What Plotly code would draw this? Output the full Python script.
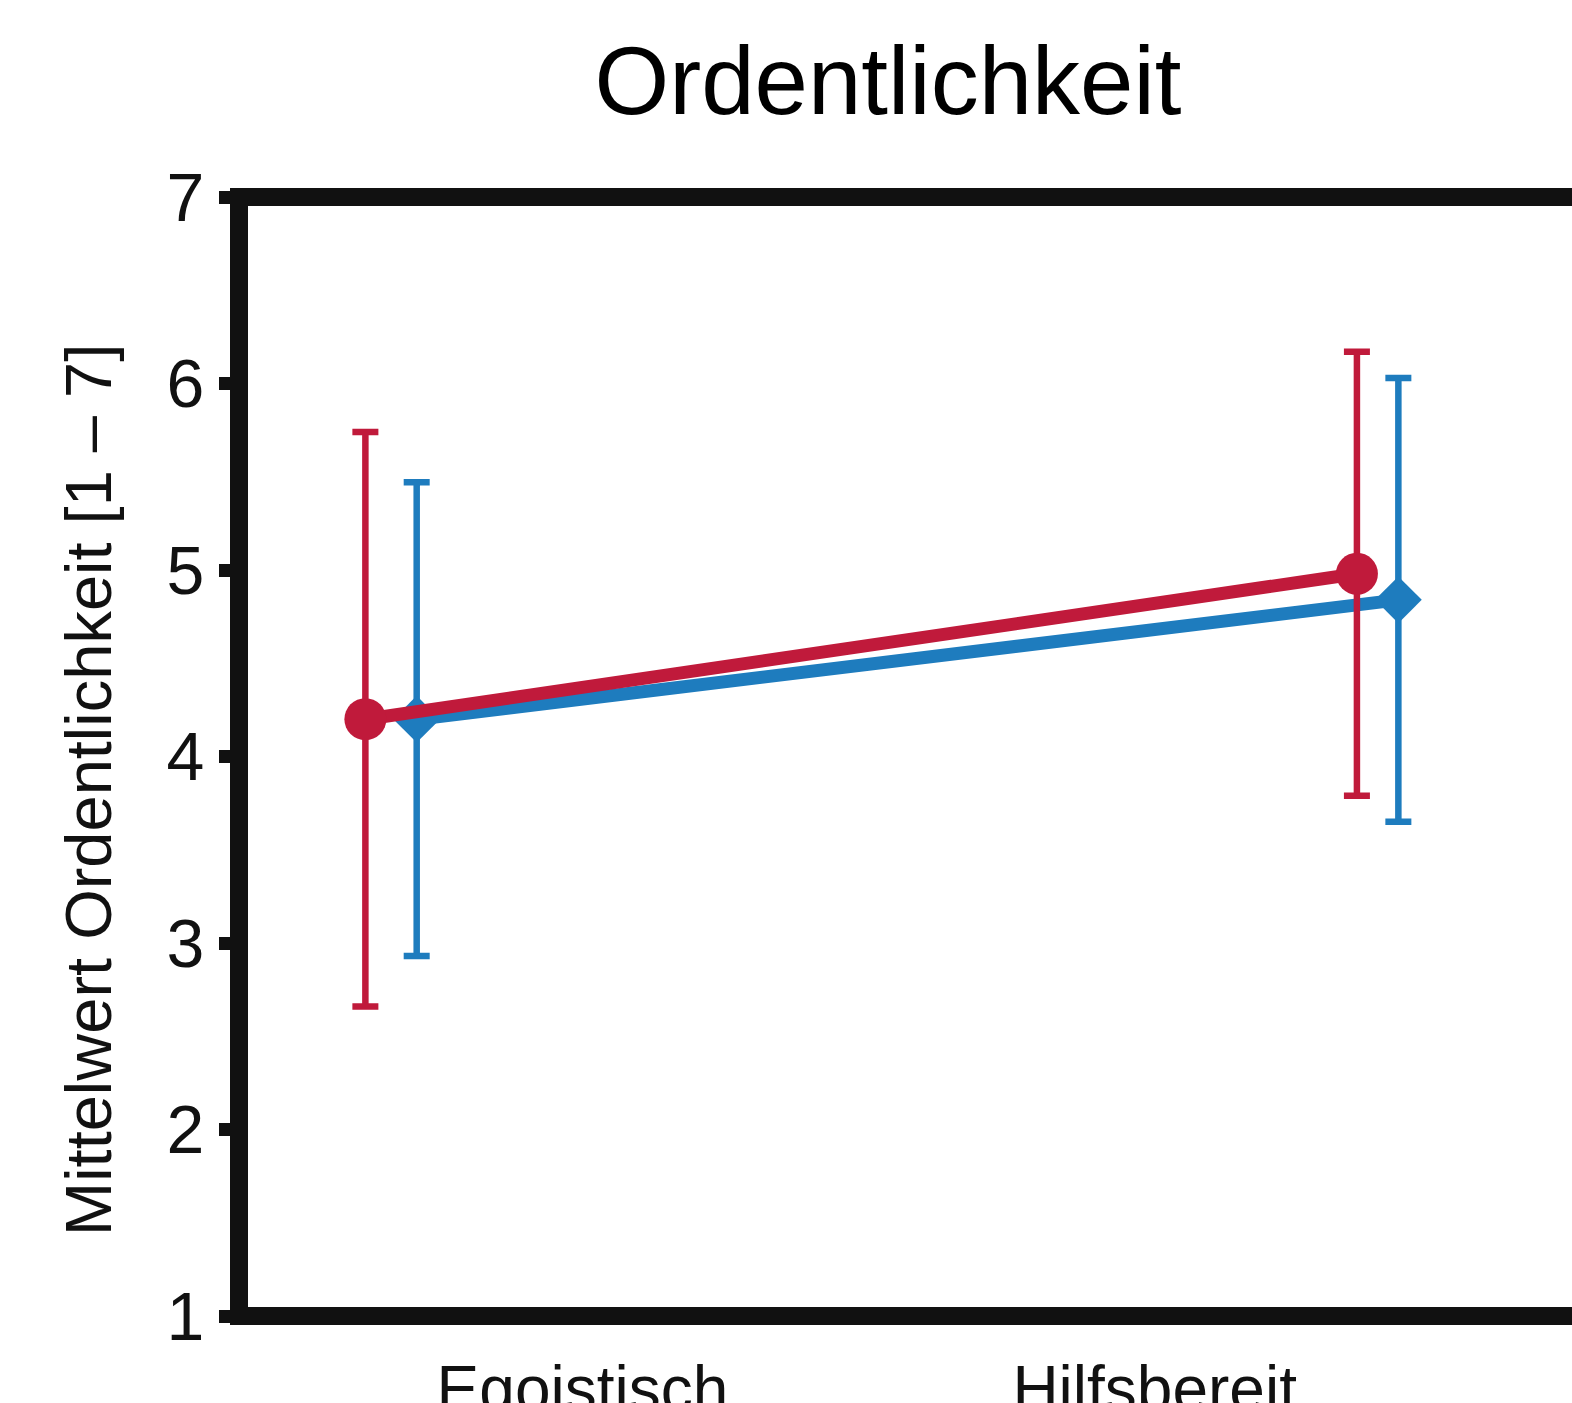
import plotly.graph_objects as go

# ---- data ----
categories = ["Egoistisch", "Hilfsbereit"]
cat_pos = [0, 1]
label_pos = [0.194, 0.774]
red_mean = [4.20, 4.98]
red_err = [1.54, 1.19]
blue_mean = [4.20, 4.84]
blue_err = [1.27, 1.19]
y_ticks = [1, 2, 3, 4, 5, 6, 7]

RED = "#C01A3B"
BLUE = "#1E7CBE"
dodge = [0.026, 0.021]

W, H = 1572, 1403
L, R, T, B = 239, 0, 197, 87
pw = W - L - R
ph = H - T - B

fig = go.Figure()

fig.add_trace(go.Scatter(
    x=[p + d for p, d in zip(cat_pos, dodge)], y=blue_mean,
    mode="lines+markers",
    line=dict(color=BLUE, width=13),
    marker=dict(symbol="diamond", size=36, color=BLUE),
    error_y=dict(type="data", array=blue_err, visible=True, color=BLUE,
                 thickness=6.5, width=13),
    showlegend=False,
))
fig.add_trace(go.Scatter(
    x=[p - d for p, d in zip(cat_pos, dodge)], y=red_mean,
    mode="lines+markers",
    line=dict(color=RED, width=13),
    marker=dict(symbol="circle", size=42, color=RED),
    error_y=dict(type="data", array=red_err, visible=True, color=RED,
                 thickness=6.5, width=13),
    showlegend=False,
))

# frame: left, top, bottom (right side cut off)
lw = 18
fig.add_shape(type="line", xref="paper", yref="paper", x0=0, x1=0,
              y0=-(lw / 2) / ph, y1=1 + (lw / 2) / ph,
              line=dict(color="#111111", width=lw), layer="above")
fig.add_shape(type="line", xref="paper", yref="paper", x0=-(lw / 2) / pw, x1=1.05,
              y0=1, y1=1, line=dict(color="#111111", width=lw), layer="above")
fig.add_shape(type="line", xref="paper", yref="paper", x0=-(lw / 2) / pw, x1=1.05,
              y0=0, y1=0, line=dict(color="#111111", width=lw), layer="above")

fig.add_annotation(
    text="Mittelwert Ordentlichkeit [1 – 7]", textangle=-90,
    xref="paper", yref="paper", x=-(239 - 88) / pw, y=(1316 - 790) / ph,
    xanchor="center", yanchor="middle", showarrow=False,
    font=dict(family="Liberation Sans, Arial", size=65, color="#111111"),
)

fig.update_layout(
    width=W, height=H, autosize=False,
    margin=dict(l=L, r=R, t=T, b=B, pad=0, autoexpand=False),
    paper_bgcolor="white", plot_bgcolor="white",
    title=dict(text="Ordentlichkeit", x=888 / W, xanchor="center",
               y=1 - 80 / H, yanchor="middle", yref="container",
               font=dict(family="Liberation Sans, Arial", size=96, color="black")),
    xaxis=dict(range=[-0.1541, 1.197], tickvals=label_pos, ticktext=categories,
               showgrid=False, zeroline=False, showline=False, ticks="",
               automargin=False,
               tickfont=dict(family="Liberation Sans, Arial", size=64, color="#111111"),
               ticklabelstandoff=30),
    yaxis=dict(range=[1, 7], tickvals=y_ticks, ticktext=[str(v) for v in y_ticks],
               showgrid=False, zeroline=False, showline=False, automargin=False,
               ticks="outside", ticklen=19, tickwidth=13, tickcolor="#111111",
               tickfont=dict(family="Liberation Sans, Arial", size=68, color="#111111"),
               ticklabelstandoff=1),
)

fig.write_html("out.html", config={"displayModeBar": False},
               post_script="document.body.style.margin='0';document.body.style.overflow='hidden';")
